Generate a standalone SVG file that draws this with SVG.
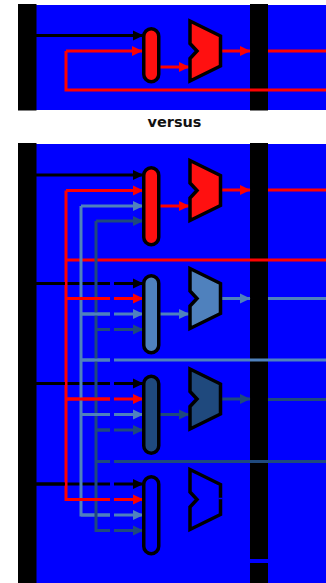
<svg xmlns="http://www.w3.org/2000/svg" width="326" height="583" viewBox="0 0 326 583">
<style>
.panel{fill:#0000ff}
.bar{fill:#000}
.w{fill:none;stroke-width:3}
.k{stroke:#000}.r{stroke:#ff0000}.l{stroke:#4f81bd}.d{stroke:#1f497d}.b{stroke:#0000ff}
.a-k{marker-end:url(#mk)}.a-r{marker-end:url(#mr)}.a-l{marker-end:url(#ml)}.a-d{marker-end:url(#md)}
.cut{stroke:#0000ff;stroke-width:4;fill:none}
.alu,.mux{stroke:#000;stroke-width:3.5}
.fr{fill:#ff1010}.fl{fill:#4f81bd}.fd{fill:#1f497d}.fb{fill:#0000ff}
text{font-family:"DejaVu Sans",sans-serif;font-weight:700;font-size:14.5px;fill:#111}
</style>
<defs>
<marker id="mk" markerUnits="userSpaceOnUse" markerWidth="11" markerHeight="11" refX="10" refY="5.500" orient="auto"><path d="M0 0.500L10.500 5.500L0 10.500Z" fill="#000"/></marker>
<marker id="mr" markerUnits="userSpaceOnUse" markerWidth="11" markerHeight="11" refX="10" refY="5.500" orient="auto"><path d="M0 0.500L10.500 5.500L0 10.500Z" fill="#ff0000"/></marker>
<marker id="ml" markerUnits="userSpaceOnUse" markerWidth="11" markerHeight="11" refX="10" refY="5.500" orient="auto"><path d="M0 0.500L10.500 5.500L0 10.500Z" fill="#4f81bd"/></marker>
<marker id="md" markerUnits="userSpaceOnUse" markerWidth="11" markerHeight="11" refX="10" refY="5.500" orient="auto"><path d="M0 0.500L10.500 5.500L0 10.500Z" fill="#1f497d"/></marker>
<path id="muxshape" d="M190 -30L220.500 -15V15L190 30V7.500L197 0L190 -7.500Z"/>
</defs>
<g id="backgrounds">
<rect class="panel" x="18" y="5" width="308" height="105"/>
<rect class="panel" x="18" y="144" width="308" height="439"/>
</g>
<g id="registers">
<rect class="bar" x="18" y="4" width="18.500" height="106.500"/>
<rect class="bar" x="250" y="4" width="18" height="106.500"/>
<rect class="bar" x="18" y="143" width="18.500" height="440"/>
<rect class="bar" x="250" y="143" width="18" height="416"/>
<rect class="bar" x="250" y="563" width="18" height="20"/>
</g>
<g id="connectors">
<path class="w k a-k" d="M36 35.500H143"/>
<path class="w r a-r" d="M66 51H142"/>
<path class="w r" d="M326 90H66V51"/>
<path class="w r a-r" d="M160 67H189"/>
<path class="w r a-r" d="M221 51H250"/>
<path class="w r" d="M268 51H326"/>

<path class="w k a-k" d="M36 175H143"/>
<path class="w k a-k" d="M36 283.500H143"/>
<path class="w k a-k" d="M36 383.500H143"/>
<path class="w k a-k" d="M36 484H143"/>

<path class="w l a-l" d="M81 206H143"/>
<path class="w l a-l" d="M81 314H143"/>
<path class="w l a-l" d="M81 414.500H143"/>
<path class="w l a-l" d="M81 515H143"/>
<path class="w l" d="M81 360H326"/>
<path class="w l a-l" d="M160 314H189"/>
<path class="w l a-l" d="M221 298.500H250"/>
<path class="w l" d="M268 298.500H326"/>

<path class="w d a-d" d="M96 221H143"/>
<path class="w d a-d" d="M96 329.500H143"/>
<path class="w d a-d" d="M96 430H143"/>
<path class="w d a-d" d="M96 530.500H143"/>
<path class="w d" d="M96 461.500H326"/>
<path class="w d a-d" d="M160 414.500H189"/>
<path class="w d a-d" d="M221 399H250"/>
<path class="w d" d="M268 399.500H326"/>

<path class="w r a-r" d="M66 190.500H143"/>
<path class="w r a-r" d="M66 298.500H143"/>
<path class="w r a-r" d="M66 399H143"/>
<path class="w r a-r" d="M66 499.500H143"/>
<path class="w r" d="M66 260H326"/>
<path class="w r a-r" d="M160 206H189"/>
<path class="w r a-r" d="M221 190H250"/>
<path class="w r" d="M268 190H326"/>

<path class="cut" d="M112 280V332M112 357.500V362.500M112 381V433M112 459V464M112 481V533"/>
<path class="w l" d="M81 206V515H110"/>
<path class="w d" d="M96 221V530.500H110"/>
<path class="w r" d="M66 190.500V499.500H110"/>
<path class="w l" d="M81 314H110M81 360H110M81 414.500H110"/>
<path class="w d" d="M96 329.500H110M96 430H110M96 461.500H110"/>
<path class="w r" d="M66 298.500H110M66 399H110"/>
<path class="w k" d="M36 283.500H65M36 383.500H65M36 484H65"/>
</g>
<g id="alu-top"><rect class="alu fr" x="143.750" y="28.750" width="15" height="53" rx="7.500"/></g>
<g id="mux-top"><use class="mux fr" href="#muxshape" y="51"/></g>
<g id="label-versus"><text x="174.500" y="127" text-anchor="middle">versus</text></g>
<g id="alu-1"><rect class="alu fr" x="143.750" y="167.750" width="15" height="77" rx="7.500"/></g>
<g id="mux-1"><use class="mux fr" href="#muxshape" y="190.500"/></g>
<g id="alu-2"><rect class="alu fl" x="143.750" y="275.750" width="15" height="77" rx="7.500"/></g>
<g id="mux-2"><use class="mux fl" href="#muxshape" y="298.500"/></g>
<g id="alu-3"><rect class="alu fd" x="143.750" y="376.250" width="15" height="77" rx="7.500"/></g>
<g id="mux-3"><use class="mux fd" href="#muxshape" y="399"/></g>
<g id="alu-4"><rect class="alu fb" x="143.750" y="476.750" width="15" height="77" rx="7.500"/></g>
<g id="mux-4"><use class="mux fb" href="#muxshape" y="499.500"/></g>
<path d="M218.500 498.500H222.500" stroke="#0000ff" stroke-width="1.500"/>
</svg>
